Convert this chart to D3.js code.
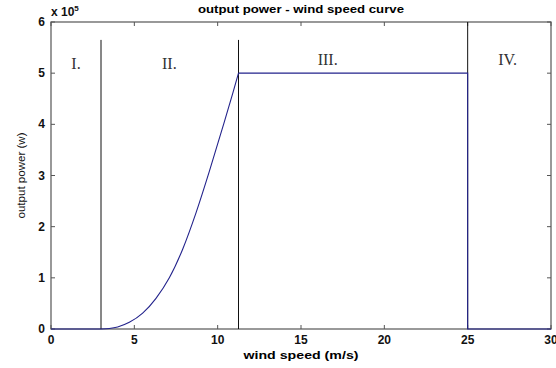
<!DOCTYPE html>
<html>
<head>
<meta charset="utf-8">
<script src="https://cdn.jsdelivr.net/npm/d3@7"></script>
<style>
  body { margin: 0; background: #fff; }
  svg { display: block; }
  .tick-lbl { font: bold 12px "Liberation Sans", Arial, sans-serif; fill: #111; }
</style>
</head>
<body>
<div id="chart"></div>
<script>
// power curve (wind speed m/s, power x 1e5 W)
var rampSpeed = [3, 3.5, 4, 4.7, 5.5, 6.3, 7.1, 7.9, 8.7, 9.5, 10.3, 10.9, 11.25];
var rampPower = [0, 0.01, 0.04, 0.13, 0.31, 0.6, 1.0, 1.56, 2.27, 3.08, 3.94, 4.6, 5];
var flatSpeed = [0, 3];
var flatPower = [0, 0];
var ratedSpeed = [11.25, 25, 25, 30];
var ratedPower = [5, 5, 0, 0];

// region dividers (speed, top of line x 1e5)
var dividerSpeed = [3, 11.25, 25];
var dividerTop = [5.65, 5.65, 6];

var regionLabels = ['I.', 'II.', 'III.', 'IV.'];
var regionSpeed = [1.5, 7.1, 16.6, 27.4];
var regionPower = [5.17, 5.17, 5.25, 5.25];

var xTicks = [0, 5, 10, 15, 20, 25, 30];
var yTicks = [0, 1, 2, 3, 4, 5, 6];

var W = 556, H = 368;
var svg = d3.select('#chart').append('svg').attr('width', W).attr('height', H);

var xScale = d3.scaleLinear().domain([0, 30]).range([51, 551]);
var yScale = d3.scaleLinear().domain([0, 6]).range([329, 22]);

var axisColor = '#555';

// box
svg.append('rect')
  .attr('x', xScale(0)).attr('y', yScale(6))
  .attr('width', xScale(30) - xScale(0)).attr('height', yScale(0) - yScale(6))
  .attr('fill', 'none').attr('stroke', axisColor).attr('stroke-width', 1.2);

// inward ticks on all sides
var tk = 4;
xTicks.forEach(function(t) {
  svg.append('line').attr('x1', xScale(t)).attr('x2', xScale(t))
    .attr('y1', yScale(0)).attr('y2', yScale(0) - tk).attr('stroke', axisColor);
  svg.append('line').attr('x1', xScale(t)).attr('x2', xScale(t))
    .attr('y1', yScale(6)).attr('y2', yScale(6) + tk).attr('stroke', axisColor);
  svg.append('text').attr('class', 'tick-lbl')
    .attr('x', xScale(t)).attr('y', yScale(0) + 15)
    .attr('text-anchor', 'middle').text(t);
});
yTicks.forEach(function(t) {
  svg.append('line').attr('x1', xScale(0)).attr('x2', xScale(0) + tk)
    .attr('y1', yScale(t)).attr('y2', yScale(t)).attr('stroke', axisColor);
  svg.append('line').attr('x1', xScale(30)).attr('x2', xScale(30) - tk)
    .attr('y1', yScale(t)).attr('y2', yScale(t)).attr('stroke', axisColor);
  svg.append('text').attr('class', 'tick-lbl')
    .attr('x', xScale(0) - 6).attr('y', yScale(t) + 4)
    .attr('text-anchor', 'end').text(t);
});

// exponent label
var expo = svg.append('text').attr('class', 'tick-lbl')
  .attr('x', xScale(0)).attr('y', 16);
expo.append('tspan').text('x 10');
expo.append('tspan').attr('dy', -5).style('font-size', '8px').text('5');

// divider lines
dividerSpeed.forEach(function(s, i) {
  svg.append('line')
    .attr('x1', xScale(s)).attr('x2', xScale(s))
    .attr('y1', yScale(0)).attr('y2', yScale(dividerTop[i]))
    .attr('stroke', '#111').attr('stroke-width', 1);
});

// power curve
var curveColor = '#23238c';
var smooth = d3.line()
  .x(function(d, i) { return xScale(rampSpeed[i]); })
  .y(function(d, i) { return yScale(rampPower[i]); })
  .curve(d3.curveMonotoneX);
svg.append('path').datum(rampSpeed)
  .attr('d', smooth).attr('fill', 'none')
  .attr('stroke', curveColor).attr('stroke-width', 1.1);

var straight = d3.line()
  .x(function(d) { return xScale(d[0]); })
  .y(function(d) { return yScale(d[1]); });
svg.append('path').datum(d3.zip(flatSpeed, flatPower))
  .attr('d', straight).attr('fill', 'none')
  .attr('stroke', curveColor).attr('stroke-width', 1.1);
svg.append('path').datum(d3.zip(ratedSpeed, ratedPower))
  .attr('d', straight).attr('fill', 'none')
  .attr('stroke', curveColor).attr('stroke-width', 1.1);

// region labels
regionLabels.forEach(function(l, i) {
  svg.append('text')
    .attr('x', xScale(regionSpeed[i])).attr('y', yScale(regionPower[i]) + 5)
    .attr('text-anchor', 'middle')
    .style('font', '16px "Liberation Serif", "Times New Roman", serif')
    .style('fill', '#333')
    .text(l);
});

// title and axis labels
svg.append('text')
  .attr('x', (xScale(0) + xScale(30)) / 2).attr('y', 13)
  .attr('text-anchor', 'middle')
  .style('font', 'bold 11px "Liberation Sans", Arial, sans-serif')
  .attr('textLength', 206).attr('lengthAdjust', 'spacingAndGlyphs')
  .text('output power - wind speed curve');

svg.append('text')
  .attr('x', (xScale(0) + xScale(30)) / 2).attr('y', 359)
  .attr('text-anchor', 'middle')
  .style('font', 'bold 11px "Liberation Sans", Arial, sans-serif')
  .attr('textLength', 115).attr('lengthAdjust', 'spacingAndGlyphs')
  .text('wind speed (m/s)');

svg.append('text')
  .attr('transform', 'translate(25,' + ((yScale(0) + yScale(6)) / 2) + ') rotate(-90)')
  .attr('text-anchor', 'middle')
  .style('font', '10.5px "Liberation Sans", Arial, sans-serif')
  .style('fill', '#111')
  .attr('textLength', 86).attr('lengthAdjust', 'spacingAndGlyphs')
  .text('output power (w)');
</script>
</body>
</html>
